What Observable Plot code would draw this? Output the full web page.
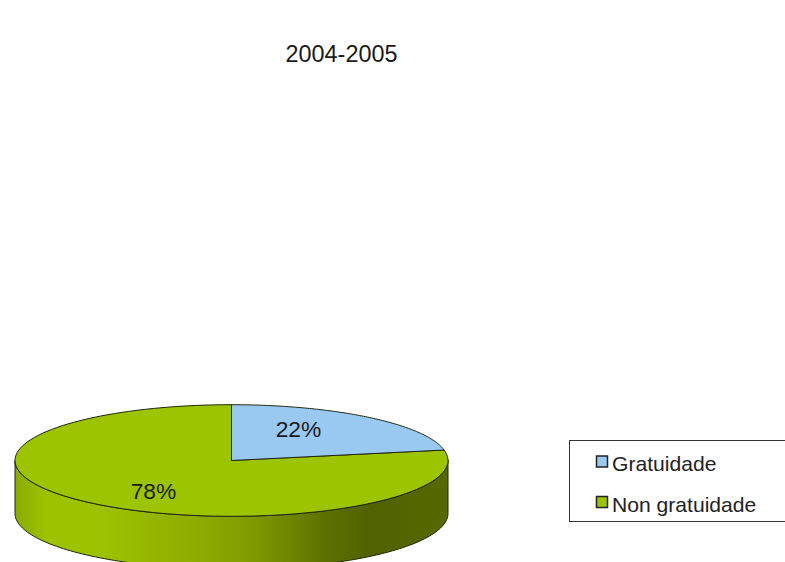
<!DOCTYPE html>
<html>
<head>
<meta charset="utf-8">
<script src="https://cdn.jsdelivr.net/npm/d3@7"></script>
<script src="https://cdn.jsdelivr.net/npm/@observablehq/plot@0.6"></script>
<style>html,body{margin:0;padding:0;background:#fff;overflow:hidden}svg{display:block}</style>
</head>
<body>
<script>
const title = "2004-2005";
const categories = ["Gratuidade", "Non gratuidade"];
const shares = [22, 78];
const colors = ["#99c9f0", "#9dc400"];

const W = 785, H = 562, FONT = "'Liberation Sans', Arial, sans-serif";
const cx = 231, cy = 460, rx = 216.5, ry = 55.8, depth = 53;
const px = t => cx + rx * Math.sin(t);
const py = t => cy - ry * Math.cos(t);
const arc = (a, b, dy = 0) => d3.range(0, 121).map(i => {
  const t = a + (b - a) * i / 120;
  return {x: px(t), y: py(t) + dy};
});
const total = d3.sum(shares);
const split = 2 * Math.PI * shares[0] / total;
const centre = {x: cx, y: cy};
const slice = (a, b) => [centre, ...arc(a, b), centre];
const front = [...arc(Math.PI / 2, 3 * Math.PI / 2), ...arc(3 * Math.PI / 2, Math.PI / 2, depth)];
front.push(front[0]);

const stops = [[0, "#8aab00"], [0.07, "#9cc200"], [0.2, "#9cc200"], [0.4, "#8fae00"], [0.55, "#7f9a00"], [0.72, "#5c7000"], [0.82, "#506200"], [1, "#566800"]];
const defs = () => {
  const d = d3.create("svg:defs");
  const g = d.append("linearGradient").attr("id", "side");
  stops.forEach(([o, c]) => g.append("stop").attr("offset", o).attr("stop-color", c));
  return d.node();
};
const edge = {stroke: "#20260a", strokeWidth: 1, curve: "linear", z: null};
const poly = (pts, fill) => Plot.line(pts, {x: "x", y: "y", fill, ...edge});

const labels = [
  {text: shares[0] + "%", x: 298, y: 429},
  {text: shares[1] + "%", x: 153, y: 491.5}
];
const legend = categories.map((c, i) => ({c, fill: colors[i], y: [462, 502.5][i]}));

const chart = Plot.plot({
  width: W, height: H, margin: 0,
  x: {domain: [0, W], range: [0, W], axis: null},
  y: {domain: [0, H], range: [0, H], axis: null},
  style: {background: "#fff", fontFamily: FONT},
  marks: [
    defs,
    poly(front, "url(#side)"),
    poly(slice(split, 2 * Math.PI), colors[1]),
    poly(slice(0, split), colors[0]),
    Plot.text(labels, {x: "x", y: "y", text: "text", fontSize: 22.8, fill: "#1a1a1a", fontFamily: FONT}),
    Plot.text([title], {x: () => 341, y: () => 54, text: d => d, fontSize: 23.4, fill: "#1a1a1a", fontFamily: FONT}),
    Plot.rect([0], {x1: () => 569.5, x2: () => 790, y1: () => 440.5, y2: () => 521.5, fill: "#fff", stroke: "#333", strokeWidth: 1}),
    Plot.rect(legend, {x1: () => 596.5, x2: () => 607.5, y1: d => d.y - 6, y2: d => d.y + 5, fill: "fill", stroke: "#222", strokeWidth: 1.5}),
    Plot.text(legend, {x: () => 611.5, y: d => d.y + 2, text: "c", textAnchor: "start", fontSize: 21.1, fill: "#222", fontFamily: FONT})
  ]
});
document.body.append(chart);
</script>
</body>
</html>
